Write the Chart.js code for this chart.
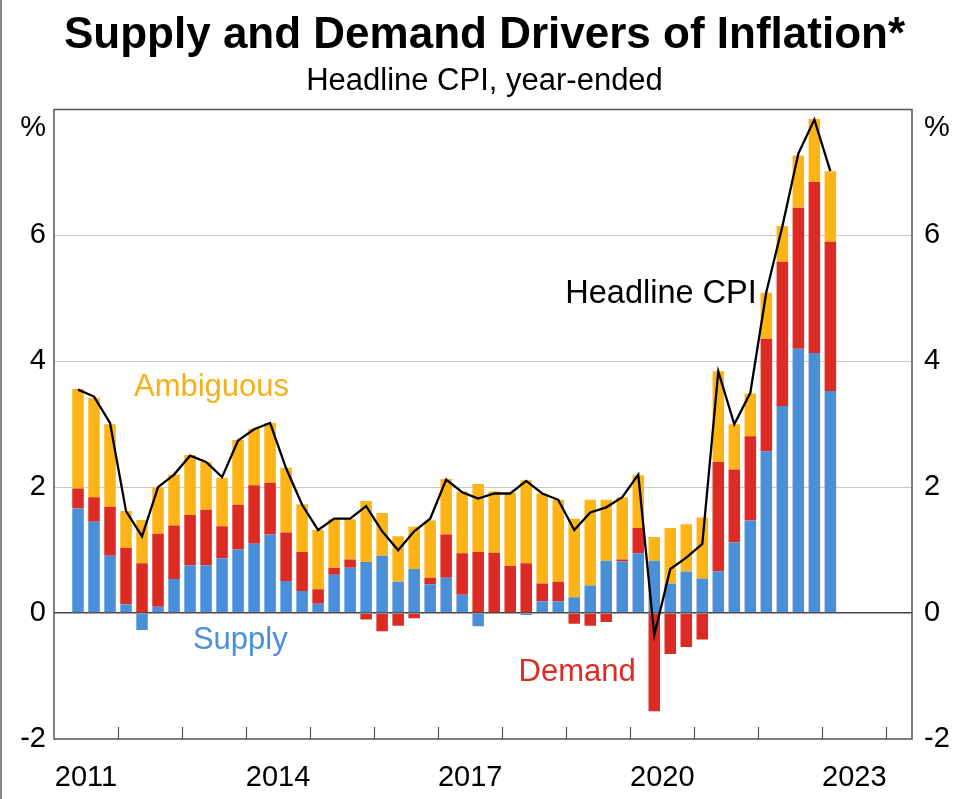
<!DOCTYPE html>
<html>
<head>
<meta charset="utf-8">
<script src="https://cdn.jsdelivr.net/npm/chart.js@4.4.1/dist/chart.umd.min.js"></script>
<style>
  html, body { margin: 0; padding: 0; background: #fff; }
  #wrap { width: 969px; height: 799px; }
</style>
</head>
<body>
<div id="wrap"><canvas id="chart" width="969" height="799"></canvas></div>
<script>
// quarters (year-ended CPI, quarter ending)
const quarters = [
    "Jun 2011", "Sep 2011", "Dec 2011",
    "Mar 2012", "Jun 2012", "Sep 2012", "Dec 2012",
    "Mar 2013", "Jun 2013", "Sep 2013", "Dec 2013",
    "Mar 2014", "Jun 2014", "Sep 2014", "Dec 2014",
    "Mar 2015", "Jun 2015", "Sep 2015", "Dec 2015",
    "Mar 2016", "Jun 2016", "Sep 2016", "Dec 2016",
    "Mar 2017", "Jun 2017", "Sep 2017", "Dec 2017",
    "Mar 2018", "Jun 2018", "Sep 2018", "Dec 2018",
    "Mar 2019", "Jun 2019", "Sep 2019", "Dec 2019",
    "Mar 2020", "Jun 2020", "Sep 2020", "Dec 2020",
    "Mar 2021", "Jun 2021", "Sep 2021", "Dec 2021",
    "Mar 2022", "Jun 2022", "Sep 2022", "Dec 2022",
    "Mar 2023"
];

// contributions, ppt
const supply = [
    1.66, 1.45, 0.91, 0.14, -0.27, 0.10, 0.54, 0.76, 0.76, 0.87, 1.01, 1.10,
    1.25, 0.51, 0.35, 0.15, 0.61, 0.72, 0.81, 0.91, 0.50, 0.70, 0.46, 0.56,
    0.29, -0.21, 0.00, 0.00, -0.03, 0.19, 0.19, 0.25, 0.44, 0.83, 0.82, 0.95,
    0.83, 0.47, 0.66, 0.55, 0.66, 1.12, 1.47, 2.57, 3.29, 4.20, 4.13, 3.53
];
const demand = [
    0.32, 0.39, 0.78, 0.90, 0.79, 1.16, 0.85, 0.80, 0.88, 0.51, 0.71, 0.93,
    0.82, 0.77, 0.62, 0.23, 0.11, 0.13, -0.10, -0.29, -0.20, -0.08, 0.10, 0.69,
    0.66, 0.97, 0.96, 0.75, 0.79, 0.28, 0.31, -0.17, -0.20, -0.14, 0.03, 0.40,
    -1.56, -0.65, -0.54, -0.42, 1.74, 1.16, 1.34, 1.79, 2.29, 2.24, 2.72, 2.37
];
const ambiguous = [
    1.58, 1.58, 1.31, 0.58, 0.69, 0.74, 0.81, 0.95, 0.76, 0.77, 1.03, 0.90,
    0.95, 1.03, 0.76, 0.94, 0.77, 0.64, 0.97, 0.68, 0.72, 0.67, 0.91, 0.88,
    0.98, 1.08, 0.97, 1.16, 1.32, 1.43, 1.30, 1.25, 1.36, 0.97, 0.99, 0.84,
    0.38, 0.88, 0.75, 0.97, 1.44, 0.72, 0.68, 0.73, 0.57, 0.83, 1.00, 1.12
];
const headline = [
    3.55, 3.44, 3.02, 1.62, 1.22, 2.00, 2.20, 2.50, 2.40, 2.16, 2.74, 2.92,
    3.02, 2.30, 1.72, 1.32, 1.50, 1.50, 1.70, 1.30, 1.00, 1.30, 1.50, 2.12,
    1.92, 1.82, 1.90, 1.90, 2.10, 1.90, 1.80, 1.32, 1.60, 1.68, 1.84, 2.20,
    -0.35, 0.70, 0.88, 1.10, 3.84, 3.00, 3.50, 5.10, 6.14, 7.30, 7.84, 7.02
];

const yTicks = [-2, 0, 2, 4, 6];
const yearLabels = [2011, 2014, 2017, 2020, 2023];

const blue = "#4a90d9";
const red = "#dd2b23";
const yellow = "#fcb416";
const font = "Liberation Sans";

// text labels placed in data units
const notes = [
    { text: "Ambiguous", x: 2013.46, y: 3.58, color: "#f6ae1a", size: 31 },
    { text: "Supply", x: 2013.91, y: -0.44, color: blue, size: 31 },
    { text: "Demand", x: 2019.17, y: -0.95, color: red, size: 31 },
    { text: "Headline CPI", x: 2020.48, y: 5.07, color: "#000", size: 32.5 }
];

const unitPos = 7.7; // where the "%" sits on both axes
const months = { Mar: 3, Jun: 6, Sep: 9, Dec: 12 };

function quarterX(q) {
    const [m, y] = q.split(" ");
    return Number(y) + months[m] / 12 - 0.125;
}

function series(values) {
    return quarters.map((q, i) => ({ x: quarterX(q), y: values[i] }));
}

function setYTicks(scale) {
    scale.ticks = yTicks.map(v => ({ value: v })).concat([{ value: unitPos }]);
}

function yLabel(v) {
    return v === unitPos ? "%" : String(v);
}

const decorations = {
    id: "decorations",
    beforeDraw(chart) {
        const ctx = chart.ctx;
        ctx.save();
        ctx.fillStyle = "#fff";
        ctx.fillRect(0, 0, chart.width, chart.height);
        ctx.strokeStyle = "#8a8a8a";
        ctx.lineWidth = 2;
        ctx.beginPath();
        ctx.moveTo(1, 0);
        ctx.lineTo(1, chart.height);
        ctx.stroke();
        ctx.restore();
    },
    afterDraw(chart) {
        const ctx = chart.ctx;
        const area = chart.chartArea;
        const xs = chart.scales.x;
        ctx.save();

        // frame
        ctx.strokeStyle = "#555";
        ctx.lineWidth = 1.5;
        ctx.strokeRect(area.left, area.top, area.right - area.left, area.bottom - area.top);

        // year tick marks, pointing up into the plot
        ctx.lineWidth = 1.2;
        ctx.beginPath();
        for (const t of xs.ticks) {
            if (t.value <= xs.min || t.value >= xs.max) continue;
            const px = Math.round(xs.getPixelForValue(t.value)) + 0.5;
            ctx.moveTo(px, area.bottom);
            ctx.lineTo(px, area.bottom - 12);
        }
        ctx.stroke();

        // annotations
        ctx.textAlign = "center";
        ctx.textBaseline = "middle";
        for (const n of notes) {
            ctx.font = `${n.size}px "${font}"`;
            ctx.fillStyle = n.color;
            ctx.fillText(n.text, xs.getPixelForValue(n.x), chart.scales.y.getPixelForValue(n.y));
        }
        ctx.restore();
    }
};

new Chart(document.getElementById("chart"), {
    type: "bar",
    data: {
        datasets: [
            {
                type: "line",
                label: "Headline CPI",
                data: series(headline),
                borderColor: "#000",
                borderWidth: 2.3,
                pointRadius: 0,
                tension: 0,
                stack: "cpi",
                order: 0
            },
            { label: "Supply", data: series(supply), backgroundColor: blue, stack: "drivers", order: 1 },
            { label: "Demand", data: series(demand), backgroundColor: red, stack: "drivers", order: 1 },
            { label: "Ambiguous", data: series(ambiguous), backgroundColor: yellow, stack: "drivers", order: 1 }
        ]
    },
    options: {
        responsive: false,
        animation: false,
        barPercentage: 0.72,
        categoryPercentage: 1,
        layout: { padding: 0 },
        plugins: {
            legend: { display: false },
            tooltip: { enabled: false },
            title: {
                display: true,
                text: "Supply and Demand Drivers of Inflation*",
                color: "#000",
                font: { family: font, size: 44, weight: "bold", lineHeight: 1.2 },
                padding: { top: 9, bottom: 0 }
            },
            subtitle: {
                display: true,
                text: "Headline CPI, year-ended",
                color: "#000",
                font: { family: font, size: 31, lineHeight: 1.2 },
                padding: { top: 1.5, bottom: 9 }
            }
        },
        scales: {
            x: {
                type: "linear",
                min: 2011,
                max: 2024.4,
                offset: false,
                stacked: true,
                afterFit: s => { s.height = 60; },
                border: { display: false },
                grid: { display: false },
                ticks: {
                    stepSize: 1,
                    includeBounds: false,
                    autoSkip: false,
                    maxRotation: 0,
                    labelOffset: 32,
                    padding: 14,
                    color: "#000",
                    font: { family: font, size: 29 },
                    callback: v => yearLabels.includes(v) ? String(v) : ""
                }
            },
            y: {
                min: -2,
                max: 8,
                stacked: true,
                afterBuildTicks: setYTicks,
                afterFit: s => { s.width = 54; },
                border: { display: false },
                grid: {
                    drawTicks: false,
                    color: c => c.tick.value === 0 ? "#444" : (c.tick.value > 0 && c.tick.value < 7 ? "#c8c8c8" : "rgba(0,0,0,0)"),
                    lineWidth: c => c.tick.value === 0 ? 1.5 : 1
                },
                ticks: {
                    padding: 8,
                    color: "#000",
                    font: { family: font, size: 29 },
                    callback: yLabel
                }
            },
            y2: {
                position: "right",
                min: -2,
                max: 8,
                afterBuildTicks: setYTicks,
                afterFit: s => { s.width = 57; },
                border: { display: false },
                grid: { display: false },
                ticks: {
                    padding: 4,
                    color: "#000",
                    font: { family: font, size: 29 },
                    callback: yLabel
                }
            }
        }
    },
    plugins: [decorations]
});
</script>
</body>
</html>
